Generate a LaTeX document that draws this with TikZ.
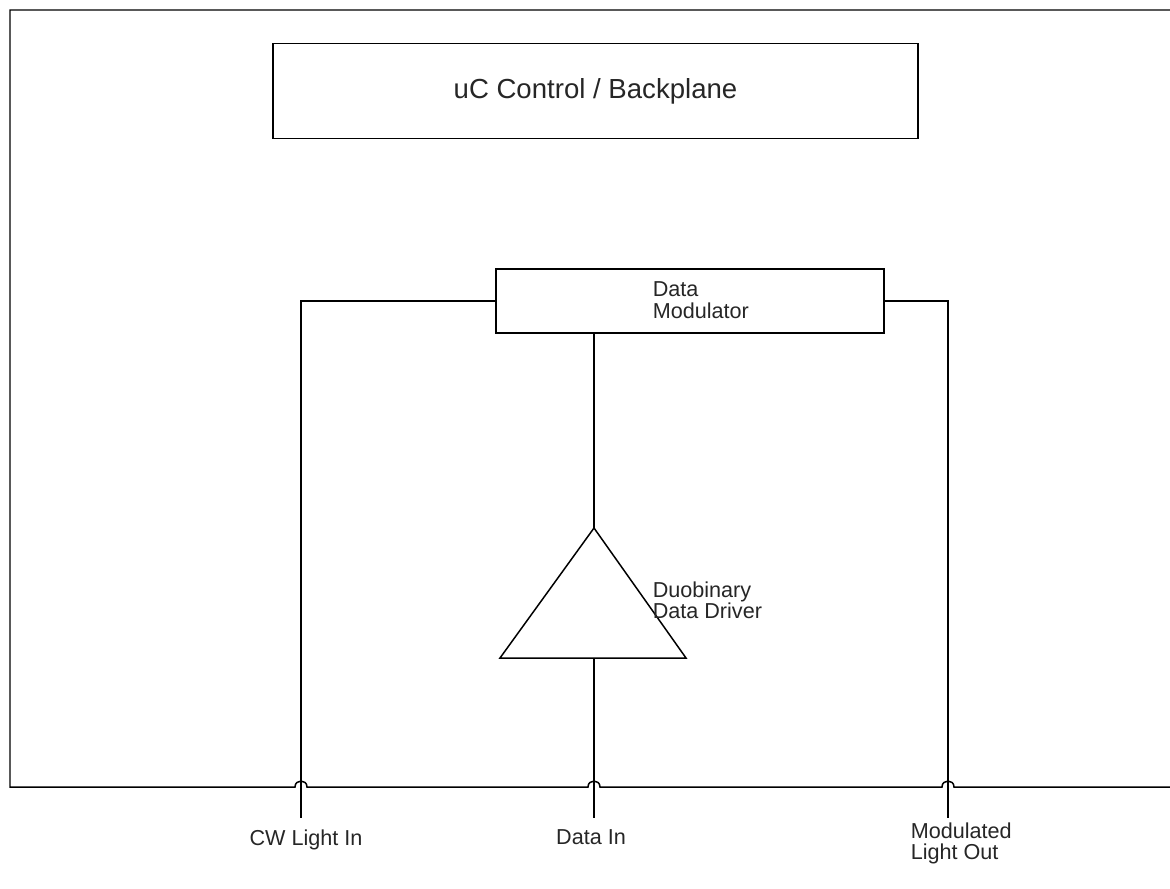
\documentclass[tikz,border=0pt]{standalone}
\usepackage{fontspec}
\setmainfont{Liberation Sans}
\begin{document}
\begin{tikzpicture}[x=0.02cm,y=-0.02cm,line width=0.85pt,
  every node/.style={font=\fontsize{12.3}{12.2}\selectfont,text=black!85},
  blk/.style={draw,inner sep=0pt},
  lbl/.style={align=left,inner sep=0pt}]
\useasboundingbox (0,0) rectangle (1170,889);
% frame with hops
\draw (1170,10) -- (10,10) -- (10,787) -- (295,787)
  .. controls (295,779) and (307,779) .. (307,787) -- (588,787)
  .. controls (588,779) and (600,779) .. (600,787) -- (942,787)
  .. controls (942,779) and (954,779) .. (954,787) -- (1170,787);
% boxes
\node[blk,minimum width=12.9cm,minimum height=1.9cm,font=\fontsize{15.7}{18}\selectfont] (uc) at (595.5,91) {uC Control / Backplane};
\node[blk,minimum width=7.76cm,minimum height=1.28cm] (mod) at (690,301) {};
\node[lbl,anchor=west] (modtxt) at (652,300) {Data\\Modulator};
% driver triangle
\coordinate (apex) at (594,528);
\coordinate (bl) at (500,658);
\coordinate (br) at (686,658);
\coordinate (bmid) at (594,658);
\draw (apex) -- (br) -- (bl) -- cycle;
\node[lbl,anchor=west] (drvtxt) at (652,600) {Duobinary\\Data Driver};
% ends
\coordinate (cwend) at (301,818);
\coordinate (dend) at (594,818);
\coordinate (mend) at (948,818);
% connectors
\draw (mod.west) -| (cwend);
\draw (mod.east) -| (mend);
\draw (594,333) -- (apex);
\draw (bmid) -- (dend);
% labels
\node[lbl,anchor=north] (cwlbl) at (306,829) {CW Light In};
\node[lbl,anchor=north] (dlbl) at (591,829) {Data In};
\node[lbl,anchor=north west] (mlbl) at (910,822) {Modulated\\Light Out};
\end{tikzpicture}
\end{document}
